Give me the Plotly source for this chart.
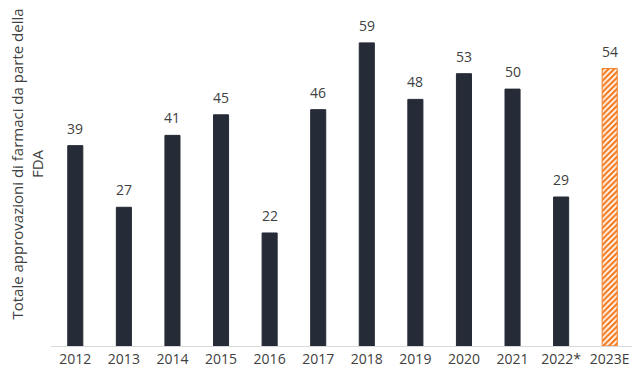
import plotly.graph_objects as go

years = ["2012", "2013", "2014", "2015", "2016", "2017", "2018", "2019", "2020", "2021", "2022*", "2023E"]
approvals = [39, 27, 41, 45, 22, 46, 59, 48, 53, 50, 29, 54]
y_title = "Totale approvazioni di farmaci da parte della<br>FDA"

dark = "#252b37"
orange = "#f47b20"
n = len(years)

fig = go.Figure()
# actual years
fig.add_trace(go.Bar(
    x=years[:-1], y=approvals[:-1],
    marker=dict(color=dark, line=dict(color=dark, width=1)),
))
# estimate (hatched)
fig.add_trace(go.Bar(
    x=years[-1:], y=approvals[-1:],
    marker=dict(
        color="white",
        line=dict(color=orange, width=1),
        pattern=dict(shape="/", fgcolor=orange, fgopacity=1,
                     size=4, solidity=0.55, fillmode="overlay"),
    ),
))

# category index i corresponds to years[i] on the category axis
for i, v in enumerate(approvals):
    fig.add_annotation(x=i, y=v, text=str(v), showarrow=False, yanchor="bottom",
                       yshift=6, font=dict(family="Open Sans", size=14, color="#404040"))

fig.add_annotation(xref="paper", yref="paper", x=0, y=0.54, xshift=-24,
                   xanchor="center", yanchor="middle", textangle=-90,
                   text=y_title, showarrow=False,
                   font=dict(family="Open Sans", size=15, color="#404040"))

# the page body adds an 8px offset, so the figure is sized 8px smaller
fig.update_layout(
    width=632, height=371,
    margin=dict(l=43, r=6, t=2, b=33),
    paper_bgcolor="white", plot_bgcolor="white",
    barmode="overlay",
    bargap=0.69,
    showlegend=False,
    font=dict(family="Open Sans", color="#404040"),
    xaxis=dict(
        type="category", range=[-0.5, n - 0.5],
        categoryorder="array", categoryarray=years,
        showline=True, linecolor="#d9d9d9", linewidth=1, automargin=False,
        ticks="", tickfont=dict(size=14, color="#404040"),
        showgrid=False,
    ),
    yaxis=dict(
        range=[0, 65.4], showgrid=False, zeroline=False, showticklabels=False,
        ticks="", automargin=False,
    ),
)

fig.write_html("out.html")
